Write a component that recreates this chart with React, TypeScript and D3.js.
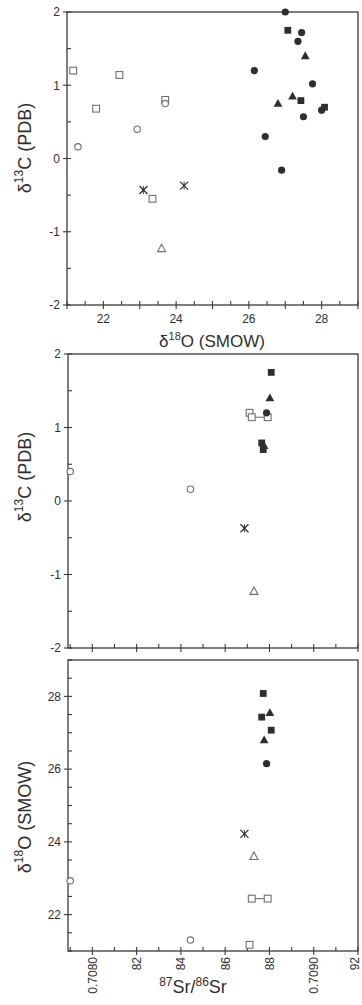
import React from "react";
import * as d3 from "d3";

// Sample symbols: fc/fs/ft = filled circle/square/triangle, oc/os/ot = open, x = asterisk
const sampleSymbol = [
  "fc", "fc", "fc", "fc", "fc", "fc", "fc", "fc", "fc",
  "fs", "fs", "fs",
  "ft", "ft", "ft",
  "os", "os", "os", "os", "os",
  "oc", "oc", "oc",
  "ot",
  "x", "x",
];
// δ18O (SMOW, ‰)
const sampleD18O = [
  27.0, 27.45, 27.35, 26.15, 27.75, 27.5, 26.45, 26.9, 28.0,
  27.07, 27.43, 28.08,
  27.55, 27.2, 26.8,
  21.17, 22.44, 21.8, 23.7, 23.35,
  21.3, 22.93, 23.7,
  23.6,
  23.1, 24.22,
];
// δ13C (PDB, ‰)
const sampleD13C = [
  2.0, 1.72, 1.6, 1.2, 1.02, 0.57, 0.3, -0.16, 0.66,
  1.75, 0.79, 0.7,
  1.4, 0.85, 0.75,
  1.2, 1.14, 0.68, 0.8, -0.55,
  0.16, 0.4, 0.75,
  -1.23,
  -0.43, -0.37,
];
// 87Sr/86Sr (low and high end; equal unless a range was measured)
const sampleSrLow = [
  null, null, null, 0.708787, null, null, null, null, null,
  0.708808, 0.708765, 0.708772,
  0.708802, null, 0.708776,
  0.70871, 0.70872, null, null, null,
  0.708443, 0.7079, null,
  0.70873,
  null, 0.708687,
];
const sampleSrHigh = [
  null, null, null, 0.708787, null, null, null, null, null,
  0.708808, 0.708765, 0.708772,
  0.708802, null, 0.708776,
  0.70871, 0.708792, null, null, null,
  0.708443, 0.7079, null,
  0.70873,
  null, 0.708687,
];

const o18Domain = [21, 29];
const c13Domain = [-2, 2];
const srDomain = [0.70789, 0.7092];
const o18TickLabels = [22, 24, 26, 28];
const c13TickLabels = [-2, -1, 0, 1, 2];
const srTickValues = [0.708, 0.7082, 0.7084, 0.7086, 0.7088, 0.709, 0.7092];
const srTickLabels = ["0.7080", "82", "84", "86", "88", "0.7090", "92"];

const FONT = "'Liberation Sans', Arial, Helvetica, sans-serif";
const INK = "#2e2e2e";
const OPEN = "#6e6e6e";
const AXIS = "#3a3a3a";

type Pt = { sym: string; x: number; y: number };

function Mark({ sym, x, y }: Pt) {
  switch (sym) {
    case "fc":
      return <circle cx={x} cy={y} r={3.6} fill={INK} />;
    case "fs":
      return <rect x={x - 3.4} y={y - 3.4} width={6.8} height={6.8} fill={INK} />;
    case "ft":
      return <path d={`M${x},${y - 4.6}L${x + 4.4},${y + 3.2}L${x - 4.4},${y + 3.2}Z`} fill={INK} />;
    case "oc":
      return <circle cx={x} cy={y} r={3.2} fill="white" stroke={OPEN} strokeWidth={1.1} />;
    case "os":
      return <rect x={x - 3.4} y={y - 3.4} width={6.8} height={6.8} fill="white" stroke={OPEN} strokeWidth={1.1} />;
    case "ot":
      return <path d={`M${x},${y - 4.4}L${x + 4},${y + 3}L${x - 4},${y + 3}Z`} fill="white" stroke={OPEN} strokeWidth={1.1} />;
    case "x":
      return (
        <g stroke={INK} strokeWidth={1.3}>
          <line x1={x - 4} y1={y - 4} x2={x + 4} y2={y + 4} />
          <line x1={x - 4} y1={y + 4} x2={x + 4} y2={y - 4} />
          <line x1={x} y1={y - 4} x2={x} y2={y + 4} strokeWidth={0.9} />
        </g>
      );
    default:
      return null;
  }
}

type AxisTick = { v: number; major: boolean; label?: string };

function Panel(props: {
  xScale: d3.ScaleLinear<number, number>;
  yScale: d3.ScaleLinear<number, number>;
  xTicks: AxisTick[];
  yTicks: AxisTick[];
  rotateXLabels?: boolean;
  pts: Pt[];
  ranges: { x1: number; x2: number; y: number }[];
}) {
  const { xScale, yScale, xTicks, yTicks, rotateXLabels, pts, ranges } = props;
  const [x0, x1] = xScale.range();
  const [y0, y1] = yScale.range(); // y0 bottom, y1 top
  return (
    <g>
      <rect x={x0} y={y1} width={x1 - x0} height={y0 - y1} fill="none" stroke={AXIS} strokeWidth={1.3} />
      {yTicks.map((t, i) => {
        const y = yScale(t.v);
        return (
          <g key={"y" + i}>
            <line x1={t.major ? x0 - 4 : x0} x2={x0 + 4} y1={y} y2={y} stroke={AXIS} strokeWidth={1.1} />
            {t.label !== undefined && (
              <text x={x0 - 7} y={y} dy="0.36em" textAnchor="end" fontSize={12} fill={INK} fontFamily={FONT}>
                {t.label}
              </text>
            )}
          </g>
        );
      })}
      {xTicks.map((t, i) => {
        const x = xScale(t.v);
        return (
          <g key={"x" + i}>
            <line x1={x} x2={x} y1={y0 - 4} y2={t.major ? y0 + 4 : y0} stroke={AXIS} strokeWidth={1.1} />
            {t.label !== undefined &&
              (rotateXLabels ? (
                <text
                  transform={`translate(${Math.min(x, 355)},${y0 + 6}) rotate(-90)`}
                  dy="0.36em"
                  textAnchor="end"
                  fontSize={12}
                  fill={INK}
                  fontFamily={FONT}
                >
                  {t.label}
                </text>
              ) : (
                <text x={x} y={y0 + 18} textAnchor="middle" fontSize={12} fill={INK} fontFamily={FONT}>
                  {t.label}
                </text>
              ))}
          </g>
        );
      })}
      {ranges.map((r, i) => (
        <line key={"r" + i} x1={r.x1} x2={r.x2} y1={r.y} y2={r.y} stroke={OPEN} strokeWidth={1.1} />
      ))}
      {pts.map((p, i) => (
        <Mark key={i} {...p} />
      ))}
    </g>
  );
}

export default function App() {
  const n = sampleSymbol.length;
  const idx = d3.range(n);

  const x1s = d3.scaleLinear().domain(o18Domain).range([67, 358]);
  const y1s = d3.scaleLinear().domain(c13Domain).range([305, 12]);
  const x2s = d3.scaleLinear().domain(srDomain).range([68, 358]);
  const y2s = d3.scaleLinear().domain(c13Domain).range([648, 354]);
  const x3s = d3.scaleLinear().domain(srDomain).range([68, 358]);
  const y3s = d3.scaleLinear().domain(o18Domain).range([951, 660]);

  const o18Ticks = (labelled: boolean): AxisTick[] =>
    d3.range(o18Domain[0] * 2, o18Domain[1] * 2 + 1).map((h) => {
      const v = h / 2;
      const lab = o18TickLabels.includes(v);
      return { v, major: labelled ? Number.isInteger(v) : lab, label: lab ? String(v) : undefined };
    });
  const c13Ticks: AxisTick[] = d3.range(c13Domain[0] * 2, c13Domain[1] * 2 + 1).map((h) => {
    const v = h / 2;
    const lab = c13TickLabels.includes(v);
    return { v, major: lab, label: lab ? String(v) : undefined };
  });
  const srTicks = (withLabels: boolean): AxisTick[] =>
    d3.range(0, 14).map((i) => {
      const v = 0.7079 + i * 0.0001;
      const li = srTickValues.findIndex((s) => Math.abs(s - v) < 1e-7);
      return { v, major: li >= 0, label: withLabels && li >= 0 ? srTickLabels[li] : undefined };
    });

  const pts1: Pt[] = idx.map((i) => ({ sym: sampleSymbol[i], x: x1s(sampleD18O[i]), y: y1s(sampleD13C[i]) }));

  const withSr = idx.filter((i) => sampleSrLow[i] !== null);
  const srPts = (xs: any, ys: any, vals: number[]): Pt[] =>
    withSr.flatMap((i) => {
      const lo = sampleSrLow[i] as number;
      const hi = sampleSrHigh[i] as number;
      const ends = lo === hi ? [lo] : [lo, hi];
      return ends.map((s) => ({ sym: sampleSymbol[i], x: xs(s), y: ys(vals[i]) }));
    });
  const srRanges = (xs: any, ys: any, vals: number[]) =>
    withSr
      .filter((i) => sampleSrLow[i] !== sampleSrHigh[i])
      .map((i) => ({ x1: xs(sampleSrLow[i]), x2: xs(sampleSrHigh[i]), y: ys(vals[i]) }));

  // draw open symbols first, filled ones on top
  const order = (p: Pt[]) => [...p].sort((a, b) => (a.sym.startsWith("f") ? 1 : 0) - (b.sym.startsWith("f") ? 1 : 0));

  return (
    <svg width={362} height={1005} style={{ position: "absolute", left: 0, top: 0, background: "white" }} fontFamily={FONT}>
      <Panel xScale={x1s} yScale={y1s} xTicks={o18Ticks(true)} yTicks={c13Ticks} pts={order(pts1)} ranges={[]} />
      <Panel
        xScale={x2s}
        yScale={y2s}
        xTicks={srTicks(false)}
        yTicks={c13Ticks}
        pts={order(srPts(x2s, y2s, sampleD13C))}
        ranges={srRanges(x2s, y2s, sampleD13C)}
      />
      <Panel
        xScale={x3s}
        yScale={y3s}
        xTicks={srTicks(true)}
        yTicks={o18Ticks(false)}
        rotateXLabels
        pts={order(srPts(x3s, y3s, sampleD18O))}
        ranges={srRanges(x3s, y3s, sampleD18O)}
      />

      {/* axis titles */}
      <text x={212} y={347} textAnchor="middle" fontSize={17} fill={INK}>
        δ<tspan fontSize={11} dy={-7}>18</tspan>
        <tspan dy={7}>O (SMOW)</tspan>
      </text>
      <text transform="translate(31,148) rotate(-90)" textAnchor="middle" fontSize={18} fill={INK}>
        δ<tspan fontSize={12} dy={-8}>13</tspan>
        <tspan dy={8}>C (PDB)</tspan>
      </text>
      <text transform="translate(31,477) rotate(-90)" textAnchor="middle" fontSize={18} fill={INK}>
        δ<tspan fontSize={12} dy={-8}>13</tspan>
        <tspan dy={8}>C (PDB)</tspan>
      </text>
      <text transform="translate(31,817) rotate(-90)" textAnchor="middle" fontSize={18} fill={INK}>
        δ<tspan fontSize={12} dy={-8}>18</tspan>
        <tspan dy={8}>O (SMOW)</tspan>
      </text>
      <text x={193} y={993} textAnchor="middle" fontSize={18} fill={INK}>
        <tspan fontSize={12} dy={-7}>87</tspan>
        <tspan dy={7}>Sr/</tspan>
        <tspan fontSize={12} dy={-7}>86</tspan>
        <tspan dy={7}>Sr</tspan>
      </text>
    </svg>
  );
}
